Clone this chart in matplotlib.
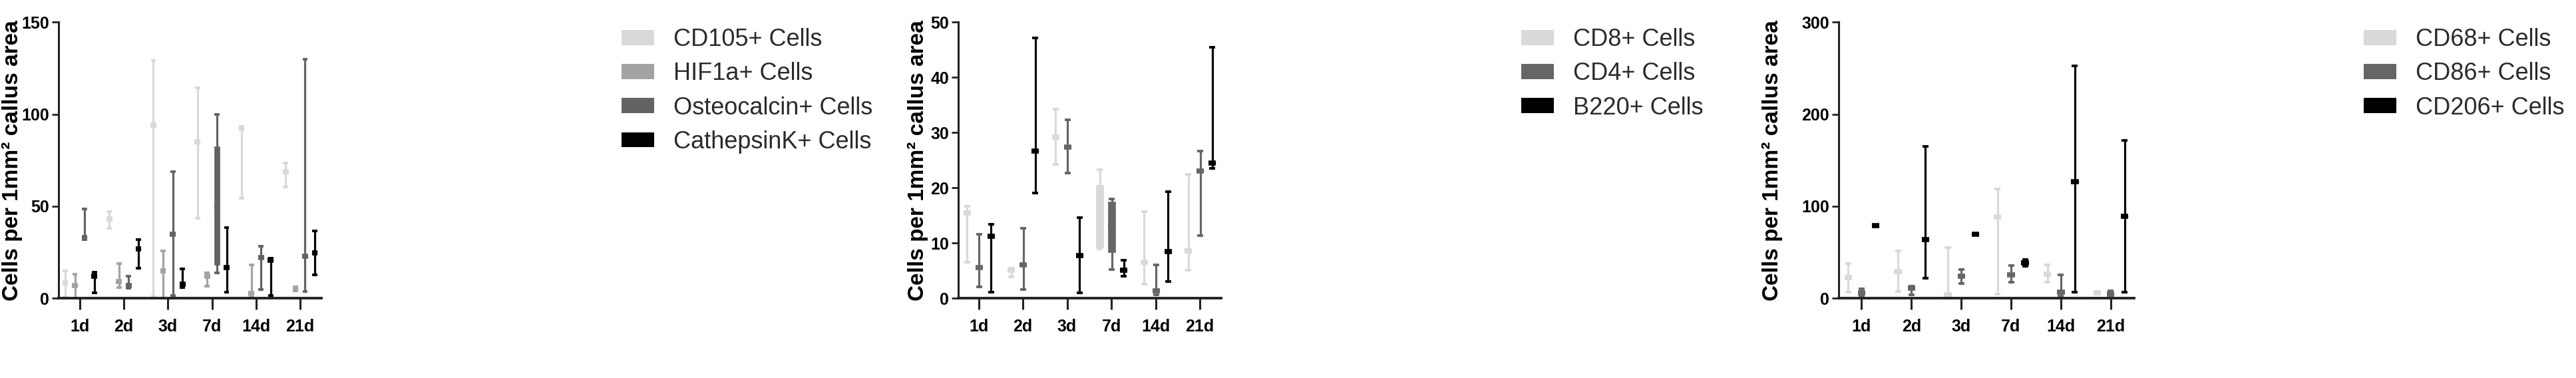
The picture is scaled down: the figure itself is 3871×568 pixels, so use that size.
import matplotlib
matplotlib.use('Agg')
import matplotlib.pyplot as plt
from matplotlib.patches import Patch

plt.rcParams['font.family'] = ['Liberation Sans Narrow', 'Liberation Sans', 'DejaVu Sans']
plt.rcParams['font.weight'] = 'bold'

days = ['1d', '2d', '3d', '7d', '14d', '21d']

# each entry: (low, q1, median, q3, high) per day
cd105 = [(0.6, 8.4, 8.4, 8.4, 15.0), (38.0, 43.0, 43.0, 43.0, 47.0), (1.2, 94.0, 94.0, 94.0, 129.3),
         (43.4, 84.9, 84.9, 84.9, 114.2), (54.2, 92.4, 92.4, 92.4, 93.4), (60.5, 68.7, 68.7, 68.7, 73.5)]
hif1a = [(0.0, 6.9, 6.9, 6.9, 13.3), (5.8, 9.3, 9.3, 9.3, 18.9), (0.0, 14.8, 14.8, 14.8, 25.9),
         (6.6, 12.0, 12.0, 12.0, 13.9), (0.6, 2.8, 2.8, 2.8, 18.1), (4.2, 5.4, 5.4, 5.4, 6.4)]
osteocalcin = [(32.0, 33.1, 33.1, 33.1, 48.6), (5.4, 6.9, 6.9, 6.9, 12.0), (1.4, 34.9, 34.9, 34.9, 68.7),
               (13.9, 18.1, 50.0, 82.5, 99.8), (4.8, 22.0, 22.0, 22.0, 28.3), (3.6, 22.9, 22.9, 22.9, 129.8)]
cathepsink = [(3.0, 12.0, 12.0, 12.0, 14.1), (16.5, 26.9, 26.9, 26.9, 31.9), (6.0, 7.8, 7.8, 7.8, 16.0),
              (3.3, 16.9, 16.9, 16.9, 38.6), (1.6, 20.8, 20.8, 20.8, 21.7), (12.7, 24.7, 24.7, 24.7, 36.7)]

cd8 = [(6.6, 15.5, 15.5, 15.5, 16.7), (3.9, 5.1, 5.1, 5.1, 5.4), (24.3, 29.2, 29.2, 29.2, 34.3),
       (9.0, 9.2, 15.0, 20.5, 23.3), (2.6, 6.6, 6.6, 6.6, 15.7), (5.1, 8.6, 8.6, 8.6, 22.5)]
cd4 = [(2.1, 5.6, 5.6, 5.6, 11.6), (1.6, 6.1, 6.1, 6.1, 12.7), (22.7, 27.4, 27.4, 27.4, 32.3),
       (5.2, 8.4, 13.0, 17.5, 18.0), (0.6, 1.4, 1.4, 1.4, 6.1), (11.4, 23.0, 23.0, 23.0, 26.7)]
b220 = [(1.1, 11.2, 11.2, 11.2, 13.4), (19.1, 26.7, 26.7, 26.7, 47.1), (1.0, 7.8, 7.8, 7.8, 14.6),
        (4.0, 5.1, 5.1, 5.1, 6.9), (3.1, 8.5, 8.5, 8.5, 19.3), (23.5, 24.5, 24.5, 24.5, 45.5)]

cd68 = [(6.5, 22.4, 22.4, 22.4, 37.8), (7.2, 28.9, 28.9, 28.9, 51.3), (1.2, 3.6, 3.6, 3.6, 55.4),
        (4.8, 88.4, 88.4, 88.4, 118.8), (17.6, 26.5, 26.5, 26.5, 36.1), (4.8, 6.0, 6.0, 6.0, 7.2)]
cd86 = [(2.4, 6.0, 6.0, 6.0, 10.4), (3.6, 10.8, 10.8, 10.8, 13.3), (16.1, 24.1, 24.1, 24.1, 31.3),
        (17.6, 25.8, 25.8, 25.8, 35.4), (2.4, 6.5, 6.5, 6.5, 25.8), (3.1, 4.8, 4.8, 4.8, 8.4)]
cd206 = [(78.8, 78.8, 78.8, 78.8, 78.8), (21.7, 63.9, 63.9, 63.9, 165.0), (69.9, 69.9, 69.9, 69.9, 69.9),
         (35.0, 38.6, 38.6, 38.6, 42.2), (6.5, 126.5, 126.5, 126.5, 252.3), (6.5, 89.2, 89.2, 89.2, 171.8)]

W, H = 3871, 568
fig = plt.figure(figsize=(W / 100, H / 100), dpi=100)

panels = [
    dict(left=88, right=483, ymax=150, yticks=[0, 50, 100, 150],
         series=[cd105, hif1a, osteocalcin, cathepsink],
         names=['CD105+ Cells', 'HIF1a+ Cells', 'Osteocalcin+ Cells', 'CathepsinK+ Cells'],
         colors=['#d9d9d9', '#a3a3a3', '#636363', '#000000'],
         offsets=[-0.33, -0.11, 0.11, 0.33], width=0.13, xlim=(-0.48, 5.48),
         leg_x=934, ylab_x=-0.137),
    dict(left=1440, right=1835, ymax=50, yticks=[0, 10, 20, 30, 40, 50],
         series=[cd8, cd4, b220],
         names=['CD8+ Cells', 'CD4+ Cells', 'B220+ Cells'],
         colors=['#d9d9d9', '#666666', '#000000'],
         offsets=[-0.26, 0.01, 0.28], width=0.16, xlim=(-0.46, 5.48),
         leg_x=2286, ylab_x=-0.114),
    dict(left=2763, right=3207, ymax=300, yticks=[0, 100, 200, 300],
         series=[cd68, cd86, cd206],
         names=['CD68+ Cells', 'CD86+ Cells', 'CD206+ Cells'],
         colors=['#d9d9d9', '#666666', '#000000'],
         offsets=[-0.27, 0.0, 0.28], width=0.15, xlim=(-0.46, 5.47),
         leg_x=3552, ylab_x=-0.19),
]

top_px, bot_px = 33.3, 448.3
for p in panels:
    ax = fig.add_axes([p['left'] / W, (H - bot_px) / H,
                       (p['right'] - p['left']) / W, (bot_px - top_px) / H])
    for vals, col, off in zip(p['series'], p['colors'], p['offsets']):
        stats = [dict(whislo=v[0], q1=v[1], med=v[2], q3=v[3], whishi=v[4]) for v in vals]
        pos = [i + off for i in range(len(days))]
        ax.bxp(stats, positions=pos, widths=p['width'], capwidths=p['width'] * 0.45,
               patch_artist=True, showfliers=False, manage_ticks=False,
               boxprops=dict(facecolor=col, edgecolor=col, linewidth=0.5),
               medianprops=dict(color=col, linewidth=5.5, solid_capstyle='butt'),
               whiskerprops=dict(color=col, linewidth=2.3),
               capprops=dict(color=col, linewidth=2.8))
    ax.set_xlim(*p['xlim'])
    ax.set_ylim(0, p['ymax'])
    ax.set_xticks(range(len(days)))
    ax.set_xticklabels(days)
    ax.set_yticks(p['yticks'])
    for s in ['top', 'right']:
        ax.spines[s].set_visible(False)
    ax.spines['left'].set_linewidth(2.2)
    ax.spines['bottom'].set_linewidth(2.8)
    ax.spines['left'].set_color('#222222')
    ax.spines['bottom'].set_color('#222222')
    ax.tick_params(axis='y', length=7, width=2, pad=3, labelsize=18, color='#222222')
    ax.tick_params(axis='x', length=12, width=2.2, pad=10, labelsize=18, color='#222222')
    ax.set_ylabel('Cells per 1mm² callus area', fontsize=24, fontweight='bold',
                  family=['Liberation Sans', 'DejaVu Sans'])
    ax.yaxis.set_label_coords(p['ylab_x'], 0.5)
    for line in ax.lines:
        line.set_clip_on(False)
    for patch in ax.patches:
        patch.set_clip_on(False)

    handles = [Patch(facecolor=c, edgecolor='none', label=n) for c, n in zip(p['colors'], p['names'])]
    ax.legend(handles=handles, loc='upper left', bbox_to_anchor=(p['leg_x'] / W, 1 - 42 / H),
              bbox_transform=fig.transFigure, frameon=False,
              prop=dict(family=['Liberation Sans', 'DejaVu Sans'], weight='normal', size=26),
              labelcolor='#2a2a2a', handlelength=1.36, handleheight=0.6, handletextpad=0.8,
              labelspacing=0.45, borderaxespad=0, borderpad=0)

fig.savefig('out.png', dpi=100)
